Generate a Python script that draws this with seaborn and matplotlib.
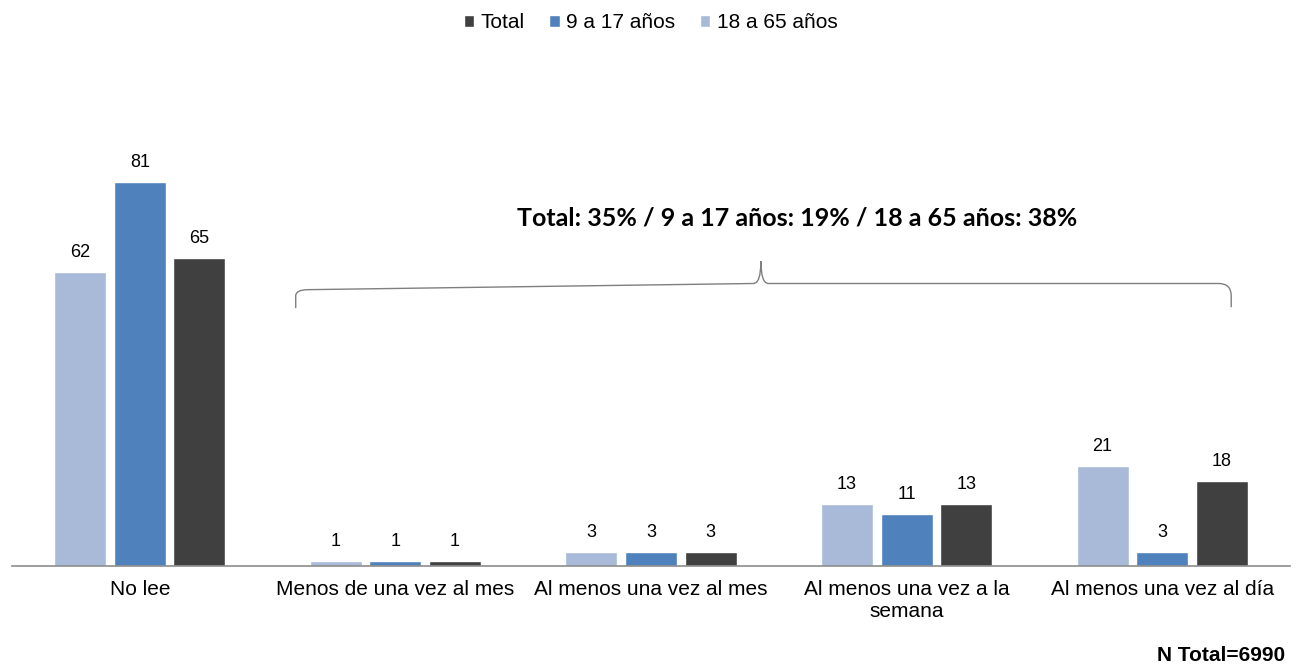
import numpy as np
import pandas as pd
import matplotlib.pyplot as plt
import seaborn as sns
from matplotlib.path import Path
from matplotlib.patches import PathPatch

# data
categories = ['No lee', 'Menos de una vez al mes', 'Al menos una vez al mes',
              'Al menos una vez a la\nsemana', 'Al menos una vez al día']
adultos = [62, 1, 3, 13, 21]      # 18 a 65 años
jovenes = [81, 1, 3, 11, 3]       # 9 a 17 años
total = [65, 1, 3, 13, 18]        # Total
series = ['18 a 65 años', '9 a 17 años', 'Total']
colors = ['#A9B9D8', '#4F81BD', '#404040']

df = pd.DataFrame({
    'cat': categories * 3,
    'grupo': [series[0]] * 5 + [series[1]] * 5 + [series[2]] * 5,
    'valor': adultos + jovenes + total,
})

sns.set_style('white')
plt.rcParams['font.family'] = ['Liberation Sans', 'DejaVu Sans']
plt.rcParams['text.color'] = 'black'
plt.rcParams['xtick.color'] = 'black'

fig = plt.figure(figsize=(13.01, 6.64), dpi=100)
ax = fig.add_axes([12 / 1301, 1 - 566 / 664, 1278 / 1301, 474 / 664])

sns.barplot(data=df, x='cat', y='valor', hue='grupo', hue_order=series,
            palette=colors, saturation=1, width=0.7, gap=0.13, ax=ax,
            legend=True)

for c in ax.containers:
    ax.bar_label(c, fmt='%d', padding=8, fontsize=13, color='black')

ax.set_ylim(0, 100)
ax.set_xlim(-0.5, 4.5)
ax.set_xlabel('')
ax.set_ylabel('')
ax.set_yticks([])
ax.tick_params(axis='x', length=0, pad=10, labelsize=15, labelcolor='black')
for s in ['left', 'right', 'top']:
    ax.spines[s].set_visible(False)
ax.spines['bottom'].set_color('#8C8C8C')
ax.spines['bottom'].set_linewidth(1.2)

# legend: reversed order, at top center
handles, labels = ax.get_legend_handles_labels()
ax.get_legend().remove()
fig.legend(handles[::-1], labels[::-1], loc='upper center', ncol=3,
           bbox_to_anchor=(0.5, 1.008), frameon=False, fontsize=15,
           handlelength=0.5, handleheight=0.5, handletextpad=0.3,
           columnspacing=1.2)

# brace over the reading categories
verts = [(0.61, 54.4), (0.61, 57.0), (0.61, 58.3), (0.66, 58.3),
         (2.40, 59.6), (2.43, 59.6), (2.43, 64.3),
         (2.43, 64.3), (2.43, 59.6), (2.46, 59.6),
         (4.22, 59.6), (4.27, 59.6), (4.27, 57.0),
         (4.27, 54.6)]
codes = [Path.MOVETO, Path.LINETO, Path.CURVE3, Path.CURVE3,
         Path.LINETO, Path.CURVE3, Path.CURVE3,
         Path.LINETO, Path.CURVE3, Path.CURVE3,
         Path.LINETO, Path.CURVE3, Path.CURVE3,
         Path.LINETO]
ax.add_patch(PathPatch(Path(verts, codes), fill=False, edgecolor='#7F7F7F',
                       linewidth=1.0, clip_on=False))

ax.text(2.57, 73.5, 'Total: 35% / 9 a 17 años: 19% / 18 a 65 años: 38%',
        ha='center', va='center', fontsize=18, fontweight='bold',
        family=['Lato', 'DejaVu Sans'])

fig.text(1285 / 1301, 1 - 661 / 664, 'N Total=6990', ha='right',
         va='baseline', fontsize=15, fontweight='bold')

fig.savefig('out.png', dpi=100)
